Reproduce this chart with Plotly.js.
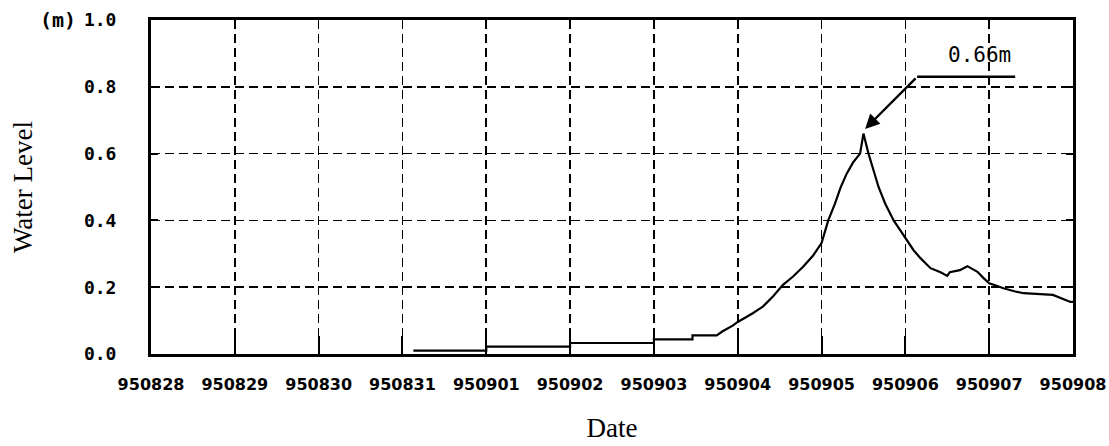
<!DOCTYPE html>
<html>
<head>
<meta charset="utf-8">
<script src="https://cdn.plot.ly/plotly-3.0.1.min.js"></script>
<style>html,body{margin:0;padding:0;background:#fff;}#chart{width:1109px;height:446px;}</style>
</head>
<body>
<div id="chart"></div>
<script>
// Tick labels (dates) at day index 0..11
const dateLabels = ["950828","950829","950830","950831","950901","950902","950903","950904","950905","950906","950907","950908"];
const dateIndex = [0,1,2,3,4,5,6,7,8,9,10,11];
const levelTicks = [0.0,0.2,0.4,0.6,0.8,1.0];

// Water level series (day index, metres)
const dayPos = [3.13,4.0,4.0,5.0,5.0,6.0,6.0,6.46,6.46,6.75,
  6.82,6.88,6.94,7.0,7.06,7.12,7.18,7.24,7.30,7.42,7.54,7.66,7.78,7.90,8.0,8.08,8.16,8.23,8.30,8.38,8.46,8.50,
  8.56,8.62,8.68,8.76,8.86,8.94,9.02,9.10,9.18,9.30,9.42,9.50,9.53,9.65,9.74,9.80,9.86,9.93,10.0,10.08,10.17,10.30,10.41,10.76,10.85,10.97,11.0];
const waterLevel = [0.010,0.010,0.022,0.022,0.033,0.033,0.044,0.044,0.056,0.056,
  0.068,0.076,0.085,0.096,0.104,0.113,0.122,0.132,0.142,0.172,0.207,0.232,0.261,0.295,0.332,0.40,0.45,0.50,0.54,0.575,0.60,0.66,
  0.60,0.55,0.50,0.45,0.40,0.37,0.34,0.31,0.287,0.257,0.245,0.234,0.245,0.251,0.263,0.255,0.246,0.228,0.212,0.205,0.197,0.188,0.182,0.177,0.168,0.156,0.156];

// Peak annotation
const peakLabel = "0.66m";
const peakPoint = [8.52, 0.674];
const leaderStart = [9.14, 0.83];
const leaderEnd = [10.31, 0.83];
const labelPos = [9.89, 0.895];

const trace = {
  x: dayPos, y: waterLevel, type: 'scatter', mode: 'lines',
  line: {color: '#000', width: 2.2}, hoverinfo: 'skip'
};

const gridStyle = {showgrid: true, gridcolor: '#000', gridwidth: 1.6, griddash: '9px,5px'};

const layout = {
  width: 1109, height: 446,
  margin: {l: 151, r: 36, t: 20, b: 92},
  paper_bgcolor: '#fff', plot_bgcolor: '#fff',
  showlegend: false,
  font: {family: 'DejaVu Sans, sans-serif', color: '#000'},
  xaxis: Object.assign({
    range: [0, 11], tickmode: 'array', tickvals: dateIndex, ticktext: dateLabels,
    ticks: 'inside', ticklen: 18, tickwidth: 2, tickcolor: '#000',
    showline: true, linecolor: '#000', linewidth: 3, mirror: true,
    zeroline: false, ticklabelstandoff: 14,
    tickfont: {family: 'DejaVu Sans', size: 16, weight: 'bold', color: '#000'},
    title: {text: 'Date', font: {family: 'Liberation Serif', size: 27, color: '#000'}, standoff: 25}
  }, gridStyle),
  yaxis: Object.assign({
    range: [0, 1.0], tickmode: 'array', tickvals: levelTicks,
    ticktext: levelTicks.map(v => v.toFixed(1)),
    ticks: 'inside', ticklen: 7, tickwidth: 2, tickcolor: '#000',
    showline: true, linecolor: '#000', linewidth: 3, mirror: 'ticks',
    zeroline: false, ticklabelstandoff: 28,
    tickfont: {family: 'DejaVu Sans Mono', size: 18, weight: 'bold', color: '#000'},
    title: {text: 'Water Level', font: {family: 'Liberation Serif', size: 27, color: '#000'}, standoff: 44}
  }, gridStyle),
  shapes: [{
    type: 'line', xref: 'x', yref: 'y',
    x0: leaderStart[0], y0: leaderStart[1], x1: leaderEnd[0], y1: leaderEnd[1],
    line: {color: '#000', width: 2.4}
  }],
  annotations: [{
    x: peakPoint[0], y: peakPoint[1], xref: 'x', yref: 'y',
    ax: leaderStart[0], ay: leaderStart[1], axref: 'x', ayref: 'y',
    showarrow: true, arrowhead: 2, arrowsize: 1.2, arrowwidth: 2.4, arrowcolor: '#000', text: ''
  }, {
    x: labelPos[0], y: labelPos[1], xref: 'x', yref: 'y', showarrow: false,
    text: peakLabel, font: {family: 'DejaVu Sans Mono', size: 21, color: '#000'}
  }, {
    x: -0.079, y: 1.0, xref: 'paper', yref: 'paper', xanchor: 'right', yanchor: 'middle',
    showarrow: false, text: '<b>(m)</b>', font: {family: 'DejaVu Sans Mono', size: 20, color: '#000'}
  }]
};

Plotly.newPlot('chart', [trace], layout, {displayModeBar: false, staticPlot: true});
</script>
</body>
</html>
